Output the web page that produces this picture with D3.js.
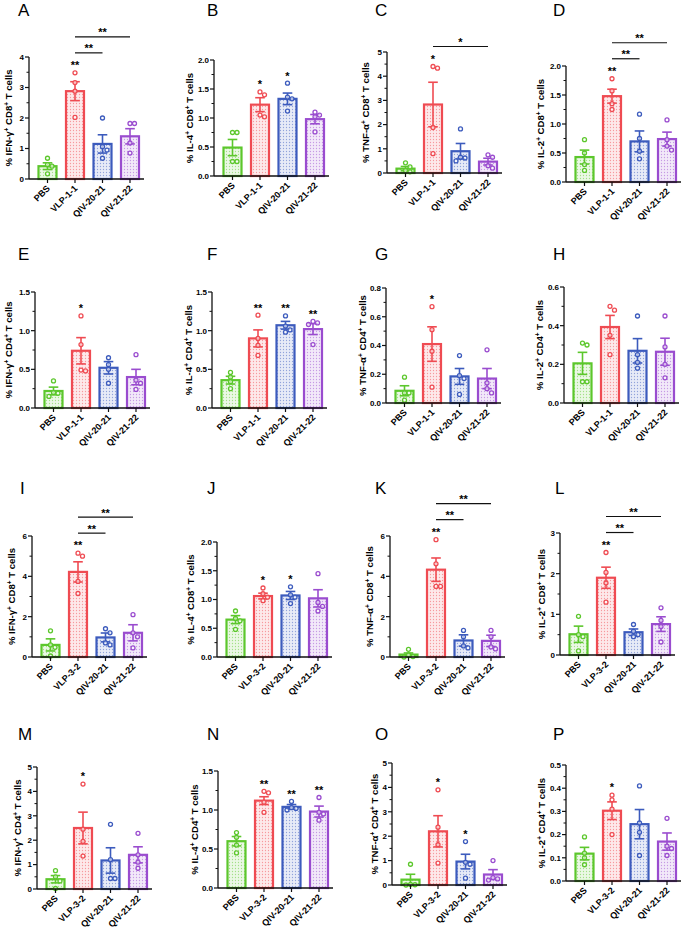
<!DOCTYPE html>
<html><head><meta charset="utf-8">
<script src="https://cdn.jsdelivr.net/npm/d3@7"></script>
<style>
body{margin:0;background:#fff;}
svg text{font-family:"Liberation Sans",Arial,Helvetica,sans-serif;}
</style></head><body>
<svg id="chart" width="685" height="933"></svg>
<script>
// ---------- DATA ----------
const categoriesVLP11 = ["PBS", "VLP-1-1", "QIV-20-21", "QIV-21-22"];
const categoriesVLP32 = ["PBS", "VLP-3-2", "QIV-20-21", "QIV-21-22"];
const panelLetters = ["A","B","C","D","E","F","G","H","I","J","K","L","M","N","O","P"];
const cytokines = ["IFN-γ","IL-4","TNF-α","IL-2","IFN-γ","IL-4","TNF-α","IL-2","IFN-γ","IL-4","TNF-α","IL-2","IFN-γ","IL-4","TNF-α","IL-2"];
const cellTypes = ["CD8","CD8","CD8","CD8","CD4","CD4","CD4","CD4","CD8","CD8","CD8","CD8","CD4","CD4","CD4","CD4"];
const yMaxValues = [4, 2, 5, 2, 1.5, 1.5, 0.8, 0.6, 6, 2, 6, 3, 5, 1.5, 5, 0.5];
const yTickSteps = [1, 0.5, 1, 0.5, 0.5, 0.5, 0.2, 0.2, 2, 0.5, 2, 1, 1, 0.5, 1, 0.1];
const barMeans = [
  [0.42, 2.88, 1.15, 1.40], [0.49, 1.23, 1.33, 0.98], [0.18, 2.83, 0.90, 0.47], [0.43, 1.48, 0.70, 0.74],
  [0.22, 0.74, 0.52, 0.40], [0.36, 0.90, 1.07, 1.02], [0.085, 0.41, 0.185, 0.17], [0.205, 0.393, 0.27, 0.265],
  [0.60, 4.22, 0.97, 1.20], [0.65, 1.06, 1.07, 1.02], [0.12, 4.33, 0.82, 0.80], [0.51, 1.90, 0.56, 0.76],
  [0.40, 2.50, 1.17, 1.40], [0.60, 1.12, 1.04, 0.98], [0.22, 2.20, 0.96, 0.43], [0.118, 0.303, 0.245, 0.17]
];
const barSEMs = [
  [0.11, 0.31, 0.30, 0.25], [0.14, 0.12, 0.10, 0.08], [0.09, 0.92, 0.32, 0.14], [0.12, 0.12, 0.18, 0.12],
  [0.05, 0.17, 0.08, 0.10], [0.05, 0.11, 0.05, 0.07], [0.035, 0.12, 0.055, 0.07], [0.057, 0.06, 0.063, 0.07],
  [0.30, 0.50, 0.22, 0.40], [0.07, 0.05, 0.07, 0.15], [0.08, 0.58, 0.28, 0.28], [0.20, 0.26, 0.08, 0.18],
  [0.15, 0.65, 0.52, 0.33], [0.06, 0.05, 0.03, 0.07], [0.22, 0.64, 0.30, 0.20], [0.027, 0.038, 0.063, 0.037]
];
const pointValues = [
  [[0.68,0.47,0.42,0.17],[3.48,3.16,2.88,2.02],[2.00,1.06,0.95,0.68],[1.82,1.82,1.18,0.85]],
  [[0.75,0.75,0.25,0.25],[1.45,1.40,1.05,1.02],[1.60,1.36,1.33,1.12],[1.10,1.05,1.02,0.76]],
  [[0.42,0.25,0.10,0.05],[4.40,4.33,1.88,0.80],[1.82,0.65,0.62,0.50],[0.75,0.65,0.30,0.20]],
  [[0.73,0.50,0.30,0.20],[1.78,1.57,1.35,1.25],[1.17,0.75,0.53,0.40],[1.07,0.73,0.62,0.55]],
  [[0.35,0.20,0.19,0.15],[1.19,0.82,0.49,0.48],[0.65,0.56,0.50,0.32],[0.69,0.36,0.32,0.24]],
  [[0.46,0.40,0.34,0.25],[1.20,0.90,0.81,0.68],[1.19,1.06,1.01,0.98],[1.12,1.10,1.08,0.82]],
  [[0.18,0.07,0.07,0.02],[0.67,0.51,0.36,0.11],[0.33,0.19,0.17,0.06],[0.37,0.14,0.10,0.07]],
  [[0.31,0.30,0.11,0.11],[0.50,0.48,0.35,0.25],[0.45,0.25,0.21,0.18],[0.45,0.29,0.20,0.13]],
  [[1.30,0.60,0.48,0.05],[5.15,5.00,3.75,3.15],[1.40,1.20,0.70,0.60],[2.10,1.20,1.00,0.45]],
  [[0.80,0.67,0.63,0.48],[1.20,1.10,1.04,0.98],[1.22,1.08,1.04,0.93],[1.45,0.95,0.88,0.80]],
  [[0.38,0.10,0.02,0.00],[5.82,4.62,3.50,3.50],[1.32,1.00,0.55,0.45],[1.32,1.00,0.50,0.40]],
  [[0.95,0.50,0.45,0.10],[2.52,2.03,1.77,1.30],[0.75,0.58,0.50,0.45],[1.16,0.85,0.70,0.32]],
  [[0.75,0.50,0.33,0.02],[4.30,2.45,1.95,1.35],[2.65,1.20,0.43,0.43],[2.28,1.40,1.10,0.85]],
  [[0.71,0.65,0.55,0.45],[1.24,1.22,1.10,0.97],[1.11,1.03,1.02,1.00],[1.16,0.97,0.95,0.87]],
  [[0.85,0.02,0.01,0.00],[3.90,2.37,1.65,0.90],[1.78,0.93,0.85,0.28],[1.00,0.30,0.25,0.20]],
  [[0.19,0.12,0.10,0.07],[0.37,0.35,0.31,0.20],[0.41,0.25,0.21,0.11],[0.27,0.15,0.14,0.11]]
];
const starLabels = [
  ["","**","",""], ["","*","*",""], ["","*","",""], ["","**","",""],
  ["","*","",""], ["","**","**","**"], ["","*","",""], ["","","",""],
  ["","**","",""], ["","*","*",""], ["","**","",""], ["","**","",""],
  ["","*","",""], ["","**","**","**"], ["","*","*",""], ["","*","",""]
];
const bracketPairs = [
  [[1,2,"**"],[1,3,"**"]], [], [[1,3,"*"]], [[1,2,"**"],[1,3,"**"]],
  [], [], [], [],
  [[1,2,"**"],[1,3,"**"]], [], [[1,2,"**"],[1,3,"**"]], [[1,2,"**"],[1,3,"**"]],
  [], [], [], []
];
const groupColors = ["#5cc72c", "#ef4b52", "#3c5bbd", "#9a4ccf"];

// ---------- LAYOUT ----------
const layout = [
  {ax:29, yTop:57, yBot:179, lx:8, letX:18, letY:16},
  {ax:214, yTop:60, yBot:176, lx:189, letX:207, letY:16},
  {ax:387, yTop:52, yBot:173, lx:365, letX:375, letY:16},
  {ax:566, yTop:66, yBot:182, lx:540, letX:553, letY:16},
  {ax:35, yTop:292, yBot:408, lx:8, letX:18, letY:260},
  {ax:212, yTop:292, yBot:408, lx:188, letX:207, letY:260},
  {ax:386, yTop:288, yBot:403, lx:362, letX:375, letY:260},
  {ax:564, yTop:287, yBot:403, lx:539, letX:553, letY:260},
  {ax:32, yTop:536, yBot:657, lx:11, letX:20, letY:494},
  {ax:217, yTop:542, yBot:657, lx:190, letX:207, letY:494},
  {ax:390, yTop:536, yBot:657, lx:369, letX:375, letY:494},
  {ax:560, yTop:533, yBot:655, lx:541, letX:555, letY:494},
  {ax:37, yTop:767, yBot:889, lx:17, letX:18, letY:740},
  {ax:218, yTop:771, yBot:888, lx:194, letX:207, letY:740},
  {ax:392, yTop:763, yBot:885, lx:374, letX:375, letY:740},
  {ax:566, yTop:765, yBot:881, lx:541, letX:553, letY:740}
];
const STEP = 27.5, FIRST = 18.5, BARW = 18;

const svg = d3.select("#chart");
const defs = svg.append("defs");
groupColors.forEach((c, i) => {
  const p = defs.append("pattern").attr("id", "dots" + i).attr("width", 3).attr("height", 3)
    .attr("patternUnits", "userSpaceOnUse");
  p.append("rect").attr("width", 3).attr("height", 3).attr("fill", c).attr("fill-opacity", 0.12);
  p.append("circle").attr("cx", 1.5).attr("cy", 1.5).attr("r", 0.65).attr("fill", c).attr("fill-opacity", 0.5);
});

panelLetters.forEach((letter, pi) => {
  const L = layout[pi];
  const cats = pi < 8 ? categoriesVLP11 : categoriesVLP32;
  const g = svg.append("g");
  const x = d3.scalePoint().domain(cats)
    .range([L.ax + FIRST - STEP / 2, L.ax + FIRST + 3 * STEP + STEP / 2]).padding(0.5);
  const y = d3.scaleLinear().domain([0, yMaxValues[pi]]).range([L.yBot, L.yTop]);
  const step = yTickSteps[pi];
  const nT = Math.round(yMaxValues[pi] / step);
  const majors = d3.range(nT + 1).map(k => +(k * step).toFixed(4));
  const minors = d3.range(nT).map(k => +((k + 0.5) * step).toFixed(4));
  const fmt = step < 1 ? d3.format(".1f") : d3.format("d");

  // letter
  g.append("text").attr("x", L.letX).attr("y", L.letY).attr("font-size", 17).text(letter);

  // y label (baseline placed so glyphs are centred on lx)
  const yl = g.append("text").attr("transform", `translate(${L.lx + 3.5},${(L.yTop + L.yBot) / 2}) rotate(-90)`)
    .attr("text-anchor", "middle").attr("font-size", 9.6).attr("font-weight", "bold");
  yl.append("tspan").text("% " + cytokines[pi]);
  yl.append("tspan").attr("baseline-shift", "super").attr("font-size", 6.5).text("+");
  yl.append("tspan").text(" " + cellTypes[pi]);
  yl.append("tspan").attr("baseline-shift", "super").attr("font-size", 6.5).text("+");
  yl.append("tspan").text(" T cells");

  // bars
  cats.forEach((c, i) => {
    const cx = x(c), col = groupColors[i];
    const m = barMeans[pi][i], s = barSEMs[pi][i];
    g.append("rect").attr("x", cx - BARW / 2).attr("y", y(m)).attr("width", BARW)
      .attr("height", y(0) - y(m)).attr("fill", `url(#dots${i})`)
      .attr("stroke", col).attr("stroke-width", 2.2);
    g.append("line").attr("x1", cx).attr("x2", cx).attr("y1", y(m - s)).attr("y2", y(m + s))
      .attr("stroke", col).attr("stroke-width", 1.6);
    [m - s, m + s].forEach(v => g.append("line").attr("x1", cx - 4.8).attr("x2", cx + 4.8)
      .attr("y1", y(v)).attr("y2", y(v)).attr("stroke", col).attr("stroke-width", 1.6));
    const placed = [];
    pointValues[pi][i].slice().sort((a, b) => b - a).forEach(v => {
      const py = y(v);
      const offs = [0, 4.5, -4.5, 9, -9];
      let ox = 0;
      for (const o of offs) {
        if (placed.every(p => Math.hypot(p[0] - o, p[1] - py) >= 4.4)) { ox = o; break; }
      }
      placed.push([ox, py]);
      g.append("circle").attr("cx", cx + ox).attr("cy", py).attr("r", 2)
        .attr("fill", "#fff").attr("fill-opacity", 0.6).attr("stroke", col).attr("stroke-width", 1.3);
    });
  });

  // axes
  g.append("line").attr("x1", L.ax).attr("x2", L.ax).attr("y1", L.yBot).attr("y2", L.yTop)
    .attr("stroke", "#111").attr("stroke-width", 1.3);
  g.append("line").attr("x1", L.ax).attr("x2", L.ax + FIRST + 3 * STEP + 14).attr("y1", L.yBot).attr("y2", L.yBot)
    .attr("stroke", "#111").attr("stroke-width", 1.3);
  majors.forEach(v => {
    g.append("line").attr("x1", L.ax - 4).attr("x2", L.ax).attr("y1", y(v)).attr("y2", y(v))
      .attr("stroke", "#111").attr("stroke-width", 1.2);
    g.append("text").attr("x", L.ax - 5).attr("y", y(v)).attr("dy", "0.36em").attr("text-anchor", "end")
      .attr("font-size", 8).attr("font-weight", "bold").text(fmt(v));
  });
  minors.forEach(v => g.append("line").attr("x1", L.ax - 2.5).attr("x2", L.ax).attr("y1", y(v)).attr("y2", y(v))
    .attr("stroke", "#111").attr("stroke-width", 1));
  cats.forEach(c => {
    g.append("line").attr("x1", x(c)).attr("x2", x(c)).attr("y1", L.yBot).attr("y2", L.yBot + 4)
      .attr("stroke", "#111").attr("stroke-width", 1.2);
    g.append("text").attr("transform", `translate(${x(c) + 3},${L.yBot + 10}) rotate(-45)`)
      .attr("text-anchor", "end").attr("font-size", 9).attr("font-weight", "bold").text(c);
  });

  // stars over bars
  let vlpStarY = null;
  cats.forEach((c, i) => {
    const lab = starLabels[pi][i];
    const top = Math.min(y(d3.max(pointValues[pi][i])), y(barMeans[pi][i] + barSEMs[pi][i]));
    const cy = top - 10;
    if (i === 1) vlpStarY = cy;
    if (!lab) return;
    g.append("text").attr("x", x(c)).attr("y", cy + 6.3).attr("text-anchor", "middle")
      .attr("font-size", 11).attr("font-weight", "bold").text(lab);
  });
  // brackets
  bracketPairs[pi].forEach((b, k) => {
    const ly = vlpStarY - 10 - 16 * k;
    const x1 = x(cats[b[0]]), x2 = x(cats[b[1]]);
    g.append("line").attr("x1", x1).attr("x2", x2).attr("y1", ly).attr("y2", ly)
      .attr("stroke", "#111").attr("stroke-width", 1.2);
    g.append("text").attr("x", (x1 + x2) / 2).attr("y", ly - 0.6).attr("text-anchor", "middle")
      .attr("font-size", 11).attr("font-weight", "bold").text(b[2]);
  });
});
</script>
</body></html>
